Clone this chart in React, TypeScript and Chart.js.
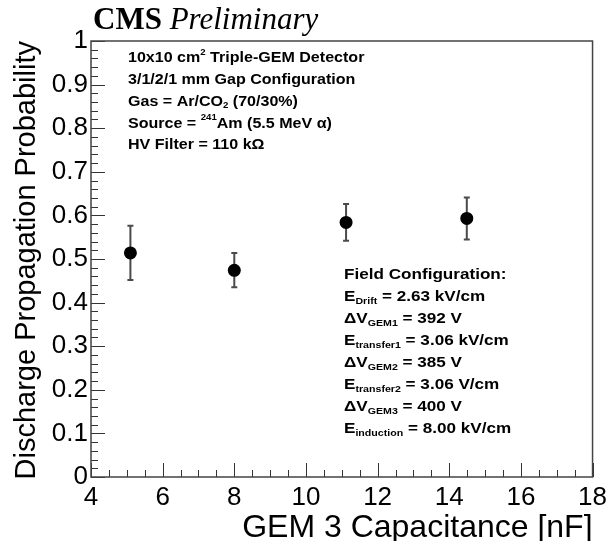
import React, { useEffect, useRef } from "react";
import { Chart, registerables } from "chart.js";

Chart.register(...registerables);

// ---- Data ----
const capacitance = [5.1, 8.0, 11.12, 14.49];
const probability = [0.514, 0.474, 0.584, 0.593];
const errHigh = [0.576, 0.514, 0.626, 0.641];
const errLow = [0.452, 0.435, 0.542, 0.545];

const xTitle = "GEM 3 Capacitance [nF]";
const yTitle = "Discharge Propagation Probability";

type Seg = { t: string; m?: "sub" | "sup" };
const infoLines: Seg[][] = [
  [{ t: "10x10 cm" }, { t: "2", m: "sup" }, { t: " Triple-GEM Detector" }],
  [{ t: "3/1/2/1 mm Gap Configuration" }],
  [{ t: "Gas = Ar/CO" }, { t: "2", m: "sub" }, { t: " (70/30%)" }],
  [{ t: "Source = " }, { t: "241", m: "sup" }, { t: "Am (5.5 MeV \u03b1)" }],
  [{ t: "HV Filter = 110 k\u03a9" }],
];
const fieldLines: Seg[][] = [
  [{ t: "Field Configuration:" }],
  [{ t: "E" }, { t: "Drift", m: "sub" }, { t: " = 2.63 kV/cm" }],
  [{ t: "\u0394V" }, { t: "GEM1", m: "sub" }, { t: " = 392 V" }],
  [{ t: "E" }, { t: "transfer1", m: "sub" }, { t: " = 3.06 kV/cm" }],
  [{ t: "\u0394V" }, { t: "GEM2", m: "sub" }, { t: " = 385 V" }],
  [{ t: "E" }, { t: "transfer2", m: "sub" }, { t: " = 3.06 V/cm" }],
  [{ t: "\u0394V" }, { t: "GEM3", m: "sub" }, { t: " = 400 V" }],
  [{ t: "E" }, { t: "induction", m: "sub" }, { t: " = 8.00 kV/cm" }],
];

const SANS = "'Liberation Sans', Arial, sans-serif";
const SERIF = "'Liberation Serif', 'Times New Roman', serif";

function drawRich(
  ctx: CanvasRenderingContext2D,
  lines: Seg[][],
  x: number,
  y0: number,
  dy: number,
  size: number,
  sx: number
) {
  ctx.save();
  ctx.fillStyle = "#000";
  ctx.textBaseline = "middle";
  ctx.textAlign = "left";
  lines.forEach((line, i) => {
    const cy = y0 + i * dy;
    ctx.save();
    ctx.translate(x, cy);
    ctx.scale(sx, 1);
    let cx = 0;
    line.forEach((s) => {
      let off = 0;
      if (s.m) {
        ctx.font = `bold ${Math.round(size * 0.62)}px ${SANS}`;
        off = s.m === "sub" ? size * 0.28 : -size * 0.36;
      } else {
        ctx.font = `bold ${size}px ${SANS}`;
      }
      ctx.fillText(s.t, cx, off);
      cx += ctx.measureText(s.t).width;
    });
    ctx.restore();
  });
  ctx.restore();
}

const decorPlugin = {
  id: "decor",
  beforeDatasetsDraw(chart: any) {
    const { ctx, scales } = chart;
    const xs = scales.x;
    const ys = scales.y;
    ctx.save();
    ctx.strokeStyle = "#4a4a4a";
    ctx.lineWidth = 2;
    capacitance.forEach((c, i) => {
      const px = xs.getPixelForValue(c);
      const pt = ys.getPixelForValue(errHigh[i]);
      const pb = ys.getPixelForValue(errLow[i]);
      ctx.beginPath();
      ctx.moveTo(px, pt);
      ctx.lineTo(px, pb);
      ctx.moveTo(px - 3, pt);
      ctx.lineTo(px + 3, pt);
      ctx.moveTo(px - 3, pb);
      ctx.lineTo(px + 3, pb);
      ctx.stroke();
    });
    ctx.restore();
  },
  afterDraw(chart: any) {
    const { ctx, chartArea: a, scales } = chart;
    const xs = scales.x;
    const ys = scales.y;
    ctx.save();
    ctx.strokeStyle = "#333";
    ctx.lineWidth = 1;
    ctx.beginPath();
    for (let k = 0; k <= 28; k++) {
      const v = 4 + k * 0.5;
      const px = Math.round(xs.getPixelForValue(v)) + 0.5;
      const len = k % 4 === 0 ? 14 : 7;
      ctx.moveTo(px, a.bottom);
      ctx.lineTo(px, a.bottom - len);
    }
    for (let k = 0; k <= 50; k++) {
      const v = k * 0.02;
      const py = Math.round(ys.getPixelForValue(v)) + 0.5;
      const len = k % 5 === 0 ? 14 : 7;
      ctx.moveTo(a.left, py);
      ctx.lineTo(a.left + len, py);
    }
    ctx.stroke();
    ctx.strokeStyle = "#444";
    ctx.lineWidth = 1.5;
    ctx.strokeRect(a.left, a.top, a.right - a.left, a.bottom - a.top);

    ctx.fillStyle = "#000";
    ctx.font = `32px ${SANS}`;
    ctx.textAlign = "right";
    ctx.textBaseline = "alphabetic";
    ctx.fillText(xTitle, a.right, 537);

    ctx.save();
    ctx.translate(35, a.top);
    ctx.rotate(-Math.PI / 2);
    ctx.font = `29px ${SANS}`;
    ctx.textAlign = "right";
    ctx.fillText(yTitle, 0, 0);
    ctx.restore();

    ctx.textAlign = "left";
    ctx.font = `bold 31px ${SERIF}`;
    ctx.fillText("CMS", 93, 29);
    const w = ctx.measureText("CMS ").width;
    ctx.font = `italic 31px ${SERIF}`;
    ctx.fillText("Preliminary", 93 + w, 29);
    ctx.restore();

    drawRich(ctx, infoLines, 128, 58, 21.8, 15, 1.07);
    drawRich(ctx, fieldLines, 344, 275, 22, 14.5, 1.18);
  },
};

export default function App() {
  const ref = useRef<HTMLCanvasElement>(null);
  useEffect(() => {
    if (!ref.current) return;
    const chart = new Chart(ref.current, {
      type: "scatter",
      data: {
        datasets: [
          {
            data: capacitance.map((c, i) => ({ x: c, y: probability[i] })),
            backgroundColor: "#000",
            borderColor: "#000",
            borderWidth: 0,
            pointRadius: 6.5,
            pointHoverRadius: 6.5,
          },
        ],
      },
      options: {
        responsive: false,
        animation: false,
        events: [],
        layout: { padding: { top: 41, right: 15, left: 0, bottom: 0 } },
        plugins: { legend: { display: false }, tooltip: { enabled: false }, title: { display: false } },
        scales: {
          x: {
            type: "linear",
            min: 4,
            max: 18,
            grid: { display: false, drawTicks: false },
            border: { display: false },
            ticks: {
              stepSize: 2,
              padding: 5,
              color: "#000",
              font: { family: SANS, size: 26 },
              maxRotation: 0,
              autoSkip: false,
            },
            afterFit: (s: any) => {
              s.height = 64;
            },
          },
          y: {
            type: "linear",
            min: 0,
            max: 1,
            grid: { display: false, drawTicks: false },
            border: { display: false },
            ticks: {
              stepSize: 0.1,
              padding: 3,
              color: "#000",
              font: { family: SANS, size: 26 },
              callback: (v: any) => String(Math.round(Number(v) * 10) / 10),
            },
            afterFit: (s: any) => {
              s.width = 91;
            },
          },
        },
      },
      plugins: [decorPlugin],
    });
    return () => chart.destroy();
  }, []);
  return (
    <div style={{ position: "absolute", left: 0, top: 0, width: 612, height: 541, background: "#fff" }}>
      <canvas ref={ref} width={612} height={541} style={{ width: 612, height: 541 }} />
    </div>
  );
}
